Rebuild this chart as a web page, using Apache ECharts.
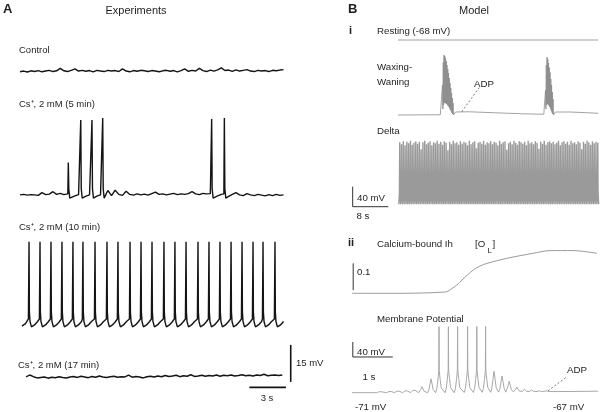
<!DOCTYPE html>
<html>
<head>
<meta charset="utf-8">
<script src="https://cdn.jsdelivr.net/npm/echarts@6/dist/echarts.min.js"></script>
<style>
html, body { margin: 0; padding: 0; background: #fff; }
#main { width: 600px; height: 412px; }
</style>
</head>
<body>
<div id="main"></div>
<script>
// ---------------- panel A : experiments (s, mV) ----------------
var dtA = 0.3;
var controlNoise = [-0.3, 0, -0.4, 0.1, -0.2, 0.2, -0.3, 0, 0.3, -0.2, 0.1, 1.1, 0.1, -0.2, 0.3, 0.9,
	0, 0.3, -0.1, 0.2, -0.3, 0.3, 0, -0.2, 0.3, 0, 0.2, -0.2, 0.9, 0, -0.3, 0.2, -0.1, 0.3, 0.1, -0.2,
	0.2, 0, -0.3, 0.1, 0.3, -0.1, 0.2, -0.3, 0.2, 0.9, -0.1, 0.3, 0, 1.1, 0.2, -0.2, 0.4, 0, 0.5, 1.3,
	0.2, 0.4, -0.1, 0.5, 0, 0.3, 0.6, 0, -0.2, 0.3, 0, 0.2, -0.2, 0.3, 0.1, 0.4, 0.6];
var min5Noise = [0, 0.2, -0.1, 0.1, 0, -0.2, 0.9, 0.1, 0.3, 1.3, 0.2, 0.6, 0.1, 0.3, -0.8, -0.4,
	0.1, -1.0, -0.5, 0, -1.0, -0.5, 0, -1.2, 1.8, -0.3, 1.9, 0.2, -0.2, 1.5, 0.2, -0.1, 0.4, 0, 0.3,
	-0.1, 0.5, 1.1, 0.2, 0.4, 0, 0.3, 0.6, 0.1, 0.4, 0.2, 0.5, 1.3, 0.4, 0.1, 0.6, 0.4, 0.5, -1.0,
	-0.4, 0.2, -1.2, -0.6, 0.2, 0.9, 0, -0.3, 0.5, 0, -0.3, 0.2, -0.1, -0.4, 0.1, -0.3, 0.2, -0.2, 0];
var min5Spikes = [3.96, 4.98, 5.90, 6.78, 15.71, 16.75];
var min5Peaks = [13.1, 30.4, 30.4, 31.2, 30.8, 31.2];
var min10Spikes = [0.74, 1.64, 2.54, 3.44, 4.34, 5.16, 6.15, 7.13, 8.03, 9.02, 9.92, 10.82,
	11.80, 12.70, 13.61, 14.59, 15.49, 16.39, 17.30, 18.20, 19.10, 19.92, 20.90];
var min10Shape = [[-0.05, 3.2], [0, 34.5], [0.03, 6], [0.08, 2.2], [0.2, 0], [0.45, 0.8], [0.7, 2.2]];
var min17Noise = [0.2, 1.0, 0.3, -0.2, 0, 0.2, -0.3, 0.1, -0.1, 0.3, 0, -0.2, 0.2, 0.4, 0, 0.5, 0.2,
	-0.1, 0.4, 0.1, 0.6, 0.2, 0, 0.3, 0.5, 0.1, 0.3, 0.2, 0.9, 0.1, 0.4, 0.2, -0.2, 0.3, 0.5, 0.2, 0.6,
	0.3, 0.8, 0.4, 0.6, 0.9, 0.3, 0.7, 0.5, 1.1, 0.4, 0.6, 0.9, 0.5, 0.8, 0.6, 1.0, 0.5, 0.9, 0.7, 1.0,
	0.6, 0.8, 1.1, 0.7, 0.9, 0.6, 1.0, 0.8, 1.3, 0.7, 0.9, 1.0, 0.8, 1.0];
// vertical place of each trace in the stacked panel (mV)
var offControl = 138.2, off5 = 88.0, off10 = 34.5, off17 = 14.0;

// ---------------- panel B i : model (s, mV) ----------------
var restLevel = 360;
var wwLevel = 210;
var wwRestT = [10.3, 19.8, 23.2, 26, 32, 38, 43.0, 45.6, 49, 55.2];
var wwRestV = [0, 0.5, 6, 6.5, 4.5, 2.5, 1.5, 6, 6, 3.5];
var wwGap = 0.17;
var burst1Start = 20.2;
var burst1Peaks = [60, 105, 120, 118, 114, 108, 100, 92, 84, 74, 64, 54, 44, 34, 24];
var burst1Troughs = [0, 12, 20, 24, 24, 23, 22, 20, 18, 16, 13, 10, 7, 4, 2, 0];
var burst2Start = 43.3;
var burst2Peaks = [50, 100, 116, 112, 104, 95, 85, 72, 60, 46, 32];
var burst2Troughs = [0, 12, 20, 22, 21, 19, 16, 13, 9, 5, 2, 0];
var deltaLevel = 31.4;
var deltaStart = 10.5, deltaGap = 0.4;
var deltaPeaks = [124, 120, 126, 118, 125, 122, 127, 119, 123, 126, 121, 125, 110, 124, 127, 120, 123, 126, 118, 124,
	122, 127, 121, 125, 119, 126, 123, 108, 125, 120, 127, 122, 124, 119, 126, 121, 125, 123, 118, 127,
	120, 124, 126, 112, 123, 125, 121, 127, 119, 124, 122, 126, 120, 125, 123, 118, 127, 121, 124, 126,
	109, 122, 125, 120, 127, 123, 119, 126, 124, 121, 125, 118, 127, 122, 124, 120, 126, 123, 111, 125,
	121, 127, 119, 124, 126, 122, 125, 120, 123, 127, 118, 124, 126, 121, 125, 119, 127, 122, 124, 120,
	126, 123, 110, 125, 121, 127, 124, 119, 126, 122, 125, 123];

// ---------------- panel B ii : calcium-bound Ih and membrane potential ----------------
var olT = [0, 1.2, 1.95, 2.2, 2.37, 2.48, 2.62, 2.75, 3.03, 3.2, 3.37, 3.87, 4.53, 4.95, 5.53, 6.12];
var olV = [0.025, 0.025, 0.027, 0.029, 0.031, 0.041, 0.056, 0.075, 0.112, 0.127, 0.137, 0.156, 0.175, 0.185, 0.185, 0.175];
var vmHumpT = [0.70, 0.95, 1.15, 1.35, 1.55, 1.75, 1.975, 2.175, 2.41, 2.64, 2.89, 3.12, 3.34, 3.55, 3.75, 3.93, 4.12, 4.31, 4.49, 4.68, 4.85];
var vmHumpH = [4, 5, 6.5, 8, 10.5, 16, 37, 58, 60, 60, 60, 60, 58, 56, 43, 29, 13, 7, 4.5, 2.7, 2];
var vmSpike = [0, 0, 0, 0, 0, 0, 0, 176, 176, 176, 176, 176, 176, 0, 0, 0, 0, 0, 0, 0, 0];
var vmFoot = [-71, -71, -71, -71, -71, -71, -71, -71, -71, -71, -70.5, -70.5, -70, -70, -69.5, -69.5, -69, -69, -68.5, -68.5, -68];
var vmBaseT = [0, 0.55, 5.0, 5.5, 6.15];
var vmBaseV = [-71, -71, -68, -67.8, -67];
// shape of one small oscillation, [time from its top (s), fraction of its height]
var vmHumpShape = [[-0.085, 0], [-0.055, 0.18], [-0.028, 0.58], [0, 1], [0.028, 0.62], [0.055, 0.22]];

// ---------------- build traces ----------------
function noiseLine(t0, dt, vals, off) {
	var d = [];
	for (var i = 0; i < vals.length; i++) d.push([t0 + i * dt, off + vals[i]]);
	return d;
}
function byX(a, b) { return a[0] - b[0]; }

var dataControl = noiseLine(0, dtA, controlNoise, offControl);
var data17 = noiseLine(0.5, dtA, min17Noise, off17);

var data5 = [];
for (var i = 0; i < min5Noise.length; i++) {
	var t = i * dtA, near = false;
	for (var k = 0; k < min5Spikes.length; k++) {
		if (t > min5Spikes[k] - 0.1 && t < min5Spikes[k] + 0.16) near = true;
	}
	if (!near) data5.push([t, off5 + min5Noise[i]]);
}
for (var k = 0; k < min5Spikes.length; k++) {
	var s = min5Spikes[k];
	data5.push([s - 0.04, off5 + 0.4], [s, off5 + min5Peaks[k]], [s + 0.04, off5 + 2.5], [s + 0.12, off5 - 1.3]);
}
data5.sort(byX);

var data10 = [[0.16, off10 + 0.3], [0.45, off10 + 1.3]];
for (var k = 0; k < min10Spikes.length; k++) {
	for (var j = 0; j < min10Shape.length; j++) {
		data10.push([min10Spikes[k] + min10Shape[j][0], off10 + min10Shape[j][1]]);
	}
}

function burst(start, peaks, troughs) {
	var d = [];
	for (var k = 0; k < peaks.length; k++) {
		d.push([start + k * wwGap, wwLevel + troughs[k]]);
		d.push([start + k * wwGap + wwGap / 2, wwLevel + peaks[k]]);
	}
	d.push([start + peaks.length * wwGap, wwLevel + troughs[peaks.length]]);
	return d;
}
var dataWW = [];
for (var i = 0; i < wwRestT.length; i++) dataWW.push([wwRestT[i], wwLevel + wwRestV[i]]);
dataWW = dataWW.concat(burst(burst1Start, burst1Peaks, burst1Troughs), burst(burst2Start, burst2Peaks, burst2Troughs));
dataWW.sort(byX);

var dataDelta = [];
for (var k = 0; k < deltaPeaks.length; k++) {
	var t = deltaStart + k * deltaGap;
	dataDelta.push([t, deltaLevel], [t + 0.13, deltaLevel + 22], [t + 0.2, deltaLevel + deltaPeaks[k]], [t + 0.27, deltaLevel + 22]);
}
dataDelta.push([deltaStart + deltaPeaks.length * deltaGap, deltaLevel]);

var dataOL = olT.map(function (t, i) { return [t, olV[i]]; });

var dataVm = vmBaseT.map(function (t, i) { return [t, vmBaseV[i]]; });
for (var k = 0; k < vmHumpT.length; k++) {
	var t = vmHumpT[k], f = vmFoot[k], h = vmHumpH[k];
	for (var j = 0; j < vmHumpShape.length; j++) {
		var p = vmHumpShape[j];
		if (p[0] === 0 && vmSpike[k] > 0) {
			dataVm.push([t - 0.006, f + h], [t, f + vmSpike[k]], [t + 0.006, f + h]);
		} else {
			dataVm.push([t + p[0], f + p[1] * h]);
		}
	}
}
dataVm.sort(byX);

// ---------------- chart ----------------
var FONT = '"Liberation Sans", Arial, Helvetica, sans-serif';
var myChart = echarts.init(document.getElementById('main'));

function trace(name, data, grid, color, width, extra) {
	var s = {
		name: name, type: 'line', data: data, xAxisIndex: grid, yAxisIndex: grid,
		symbol: 'none', clip: false, silent: true,
		lineStyle: { color: color, width: width }
	};
	if (extra) for (var key in extra) s[key] = extra[key];
	return s;
}
function label(text, x, y, size, opts) {
	opts = opts || {};
	return {
		type: 'text', x: x, y: y, silent: true,
		style: {
			text: text, fill: '#1e1e1e',
			font: (opts.bold ? 'bold ' : '') + size + 'px ' + FONT,
			textAlign: opts.align || 'left', textVerticalAlign: 'middle'
		}
	};
}

var option = {
	animation: false,
	backgroundColor: '#fff',
	grid: [
		{ left: 20, top: 0, width: 280, height: 412 },
		{ left: 352, top: 30, width: 248, height: 190 },
		{ left: 352, top: 240, width: 248, height: 60 },
		{ left: 352, top: 309.8, width: 248, height: 90 }
	],
	xAxis: [
		{ gridIndex: 0, type: 'value', min: 0, max: 22.95, show: false },
		{ gridIndex: 1, type: 'value', min: 0, max: 55.6, show: false },
		{ gridIndex: 2, type: 'value', min: 0, max: 6.2, show: false },
		{ gridIndex: 3, type: 'value', min: 0, max: 6.2, show: false }
	],
	yAxis: [
		{ gridIndex: 0, type: 'value', min: 0, max: 167, show: false },
		{ gridIndex: 1, type: 'value', min: 0, max: 380, show: false },
		{ gridIndex: 2, type: 'value', min: 0, max: 0.2247, show: false },
		{ gridIndex: 3, type: 'value', min: -90, max: 150, show: false }
	],
	series: [
		trace('Control', dataControl, 0, '#141414', 1.4),
		trace('Cs 5 min', data5, 0, '#141414', 1.4),
		trace('Cs 10 min', data10, 0, '#141414', 1.4),
		trace('Cs 17 min', data17, 0, '#141414', 1.4),
		trace('15 mV', [[22.19, 12.2], [22.19, 27.2]], 0, '#141414', 1.6),
		trace('3 s', [[18.8, 10.0], [21.8, 10.0]], 0, '#141414', 1.6),

		trace('Resting', [[10.3, restLevel], [55.2, restLevel]], 1, '#a0a0a0', 1),
		trace('Waxing-Waning', dataWW, 1, '#8a8a8a', 0.8),
		trace('Delta', dataDelta, 1, '#9a9a9a', 1.4),
		trace('ADP i', [[24.6, 216.6], [28.5, 264.6]], 1, '#555', 0.8, { lineStyle: { color: '#555', width: 0.8, type: [2, 2] } }),
		trace('40 mV i', [[0.15, 26.6], [0.15, 66.6]], 1, '#333', 1),
		trace('8 s', [[0.15, 26.6], [8.15, 26.6]], 1, '#333', 1),

		trace('[OL]', dataOL, 2, '#9a9a9a', 1, { smooth: 0.3 }),
		trace('0.1', [[0.03, 0.0375], [0.03, 0.1375]], 2, '#333', 1),

		trace('Membrane Potential', dataVm, 3, '#a8a8a8', 1),
		trace('ADP ii', [[4.9, -66], [5.37, -29]], 3, '#555', 0.8, { lineStyle: { color: '#555', width: 0.8, type: [2, 2] } }),
		trace('40 mV ii', [[0.02, 24.2], [0.02, 64.2]], 3, '#333', 1),
		trace('1 s', [[0.02, 24.2], [1.02, 24.2]], 3, '#333', 1)
	],
	graphic: [
		label('A', 3, 9, 13, { bold: true }),
		label('Experiments', 136, 11, 11, { align: 'center' }),
		label('Control', 19, 50, 9.5),
		label('Cs\u207A, 2 mM (5 min)', 19, 104, 9.5),
		label('Cs\u207A, 2 mM (10 min)', 19, 227, 9.5),
		label('Cs\u207A, 2 mM (17 min)', 18, 365, 9.5),
		label('15 mV', 296, 363, 9.5),
		label('3 s', 267, 398, 9.5, { align: 'center' }),

		label('B', 348, 9, 13, { bold: true }),
		label('Model', 474, 11, 11, { align: 'center' }),
		label('i', 349, 31, 11, { bold: true }),
		label('Resting (-68 mV)', 377, 31, 9.7),
		label('Waxing-', 377, 67, 9.7),
		label('Waning', 377, 82, 9.7),
		label('ADP', 484, 84, 9.7, { align: 'center' }),
		label('Delta', 377, 131, 9.7),
		label('40 mV', 357, 198, 9.7),
		label('8 s', 363, 216, 9.7, { align: 'center' }),

		label('ii', 348, 243, 11, { bold: true }),
		label('Calcium-bound Ih', 377, 244, 9.7),
		label('[O', 475, 244, 9.7),
		label('L', 487.5, 251, 8),
		label(']', 492.5, 244, 9.7),
		label('0.1', 357, 272, 9.7),
		label('Membrane Potential', 377, 319, 9.7),
		label('40 mV', 357, 352, 9.7),
		label('1 s', 369, 377, 9.7, { align: 'center' }),
		label('-71 mV', 355, 407, 9.7),
		label('-67 mV', 553, 407, 9.7),
		label('ADP', 577, 370, 9.7, { align: 'center' })
	]
};

myChart.setOption(option);
</script>
</body>
</html>
